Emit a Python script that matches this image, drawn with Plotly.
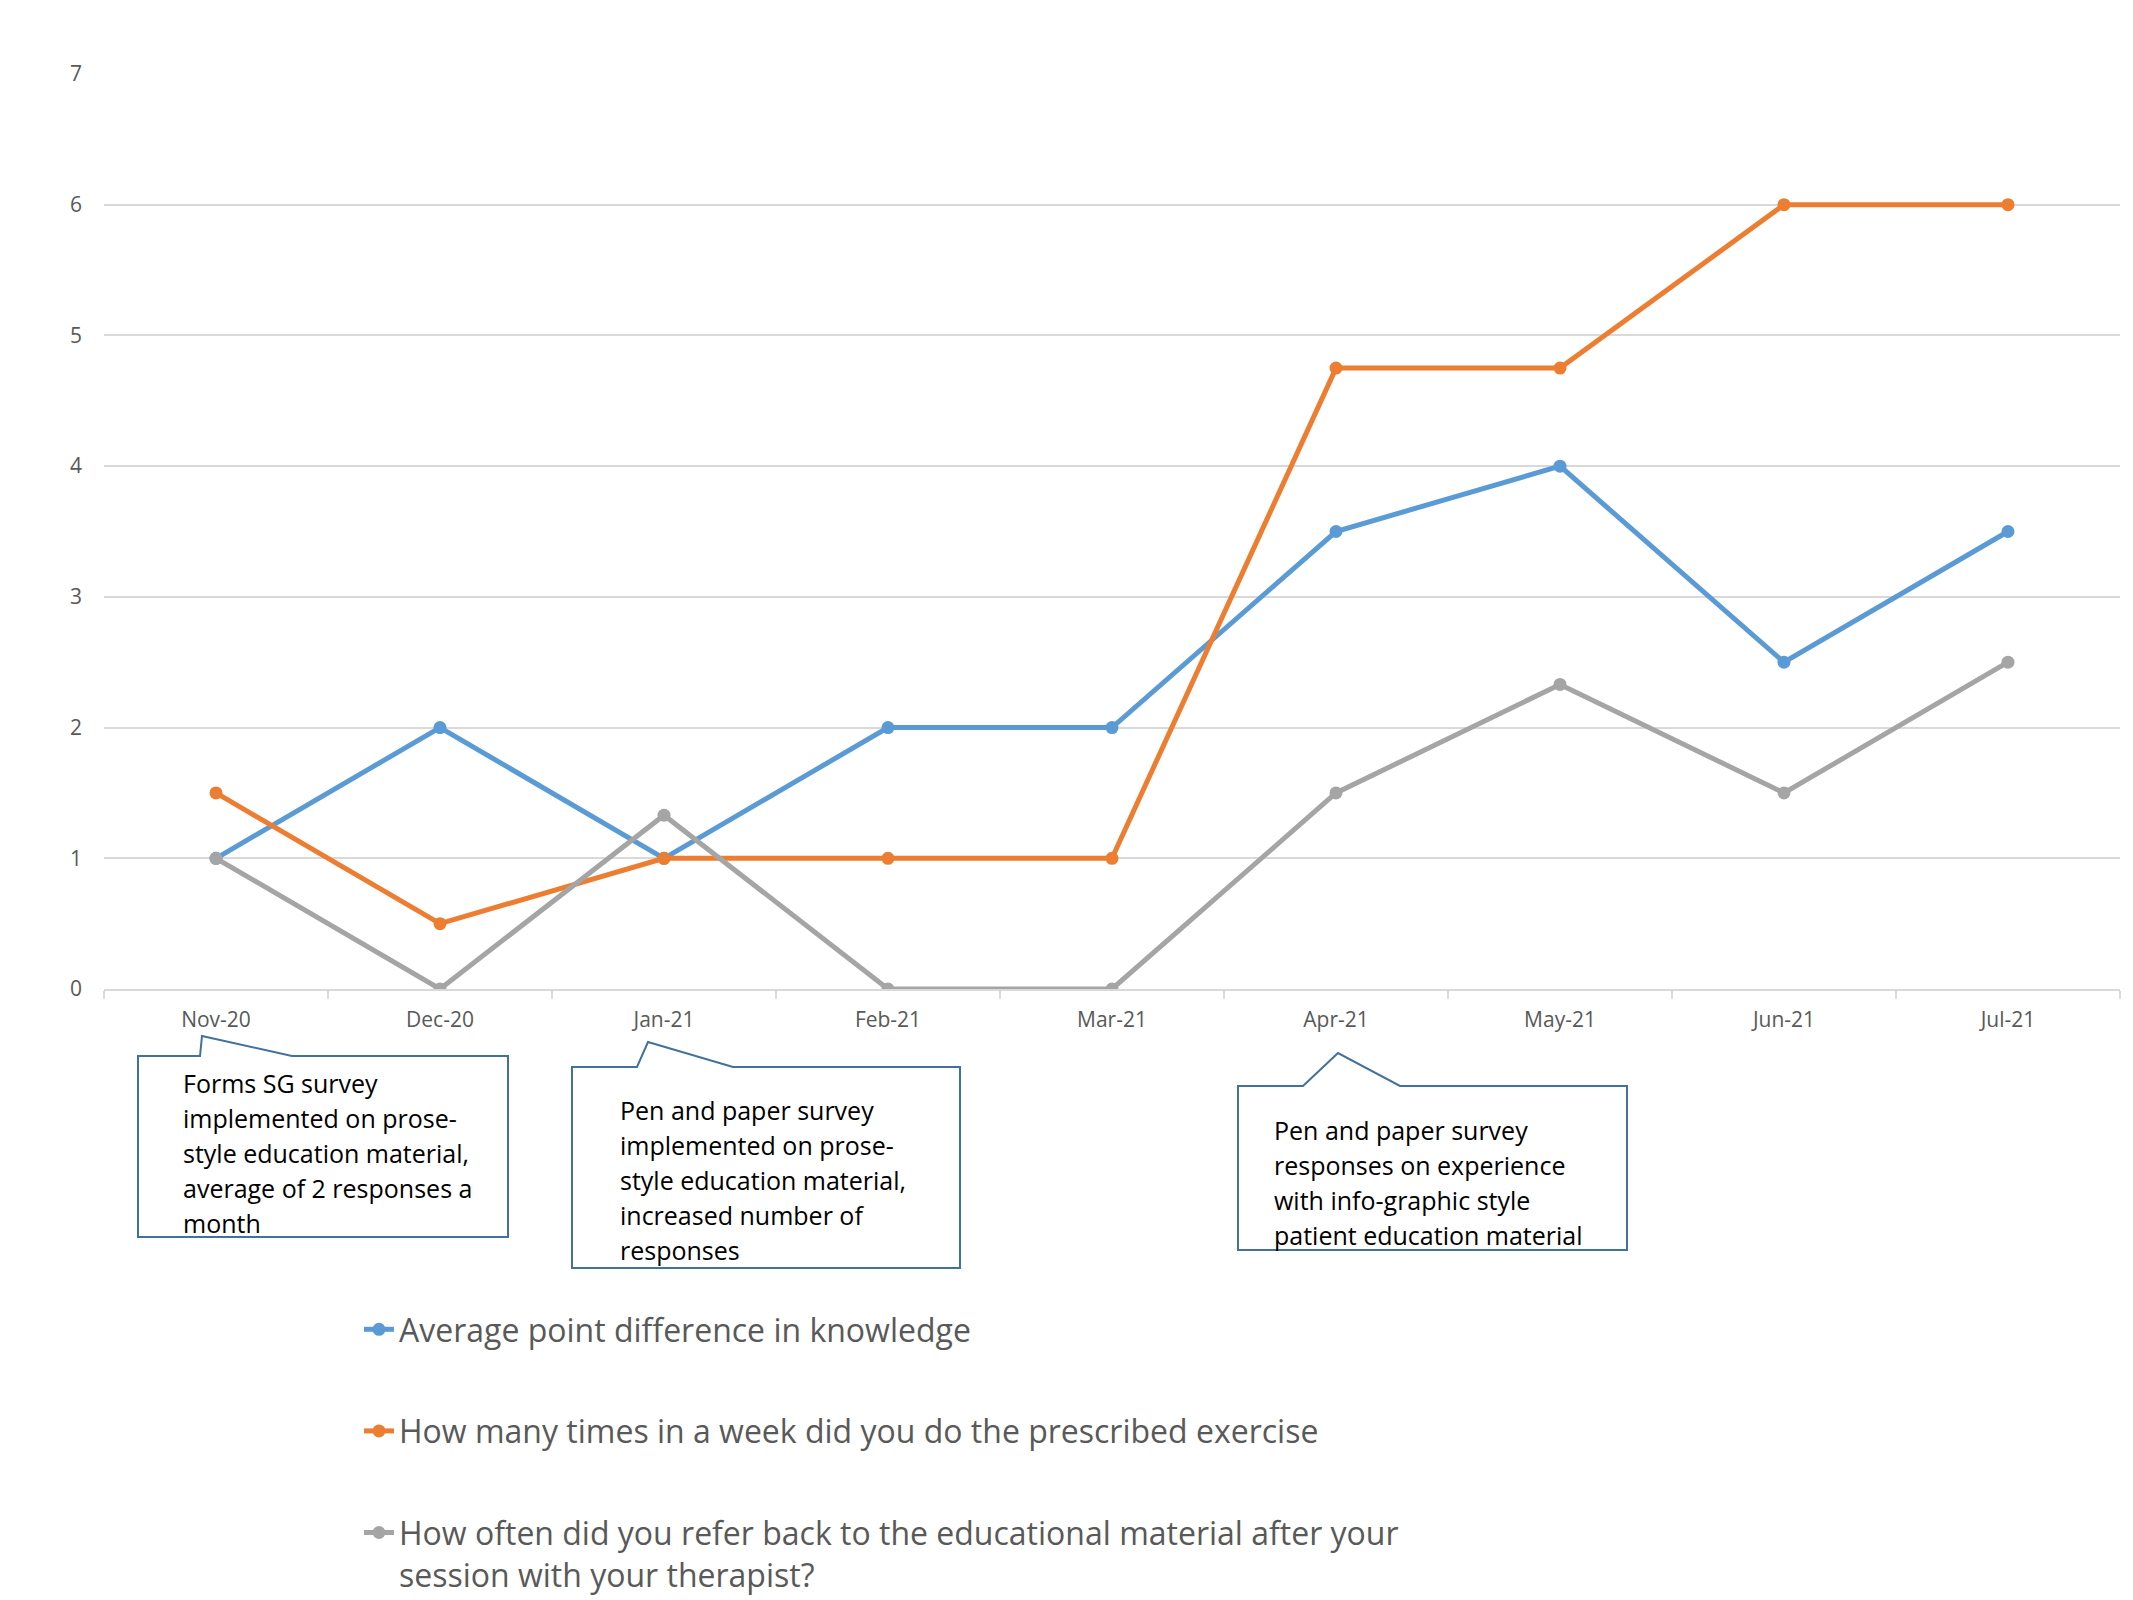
import plotly.graph_objects as go

months = ["Nov-20", "Dec-20", "Jan-21", "Feb-21", "Mar-21", "Apr-21", "May-21", "Jun-21", "Jul-21"]
knowledge = [1, 2, 1, 2, 2, 3.5, 4, 2.5, 3.5]
exercise = [1.5, 0.5, 1, 1, 1, 4.75, 4.75, 6, 6]
refer_back = [1, 0, 1.33, 0, 0, 1.5, 2.33, 1.5, 2.5]

names = [
    "Average point difference in knowledge",
    "How many times in a week did you do the prescribed exercise",
    "How often did you refer back to the educational material after your<br>session with your therapist?",
]
colors = ["#5B9BD5", "#ED7D31", "#A5A5A5"]

callouts = [
    ["Forms SG survey", "implemented on prose-", "style education material,",
     "average of 2 responses a", "month"],
    ["Pen and paper survey", "implemented on prose-", "style education material,",
     "increased number of", "responses"],
    ["Pen and paper survey", "responses on experience", "with info-graphic style",
     "patient education material"],
]

W, H = 2133, 1600
L, R, T, B = 104, 2120, 74, 989
OFF = 8  # page body margin


def xp(px):
    return (px - L) / (R - L)


def yp(py):
    return (B - py) / (B - T)


fig = go.Figure()
for i, (vals, name, col) in enumerate(zip([knowledge, exercise, refer_back], names, colors)):
    fig.add_trace(go.Scatter(
        x=months, y=vals, name=name, mode="lines+markers",
        line=dict(color=col, width=5),
        marker=dict(color=col, size=13),
        legendgroup=f"g{i}",
    ))

boxes = [
    dict(l=138, r=508, t=1056, b=1237, p=[(200, 1056), (202, 1036), (292, 1056)], tx=181, ty=1083),
    dict(l=572, r=960, t=1067, b=1268, p=[(637, 1067), (648, 1042), (733, 1067)], tx=618, ty=1110),
    dict(l=1238, r=1627, t=1086, b=1250, p=[(1303, 1086), (1338, 1053), (1400, 1086)], tx=1272, ty=1130),
]
shapes = []
annotations = []
for bx, lines in zip(boxes, callouts):
    pts = [(bx["l"], bx["t"]), bx["p"][0], bx["p"][1], bx["p"][2], (bx["r"], bx["t"]),
           (bx["r"], bx["b"]), (bx["l"], bx["b"])]
    path = "M " + " L ".join(f"{xp(x):.5f},{yp(y):.5f}" for x, y in pts) + " Z"
    shapes.append(dict(type="path", xref="paper", yref="paper", path=path,
                       line=dict(color="#41719C", width=2), fillcolor="white", layer="above"))
    for k, ln in enumerate(lines):
        annotations.append(dict(
            xref="paper", yref="paper", x=xp(bx["tx"]), y=yp(bx["ty"] + 35 * k),
            xanchor="left", yanchor="middle", showarrow=False, text=ln,
            font=dict(family="Open Sans, sans-serif", size=25, color="#000000"),
        ))

fig.update_layout(
    width=W, height=H,
    margin=dict(l=L - OFF, r=W - (R - OFF), t=T - OFF, b=H - (B - OFF), autoexpand=False),
    paper_bgcolor="white", plot_bgcolor="white",
    font=dict(family="Open Sans, sans-serif", color="#595959"),
    shapes=shapes, annotations=annotations,
    legend=dict(
        x=xp(359), y=yp(1302), xanchor="left", yanchor="top",
        orientation="v", tracegroupgap=57, valign="top",
        font=dict(size=32, color="#595959", family="Open Sans, sans-serif"),
        bgcolor="rgba(0,0,0,0)",
    ),
    showlegend=True,
)
fig.update_xaxes(
    type="category", range=[-0.5, 8.5], showgrid=False, zeroline=False,
    showline=True, linecolor="#D9D9D9", linewidth=2,
    ticks="outside", tickson="boundaries", ticklen=8, tickcolor="#D9D9D9", tickwidth=2,
    tickfont=dict(size=21, color="#595959"), ticklabelstandoff=11,
)
fig.update_yaxes(
    range=[0, 7], dtick=1, showgrid=True, gridcolor="#D9D9D9", gridwidth=1.5,
    zeroline=False, showline=False, ticks="",
    tickfont=dict(size=21, color="#595959"), ticklabelstandoff=21,
)

fig.write_html("out.html")
